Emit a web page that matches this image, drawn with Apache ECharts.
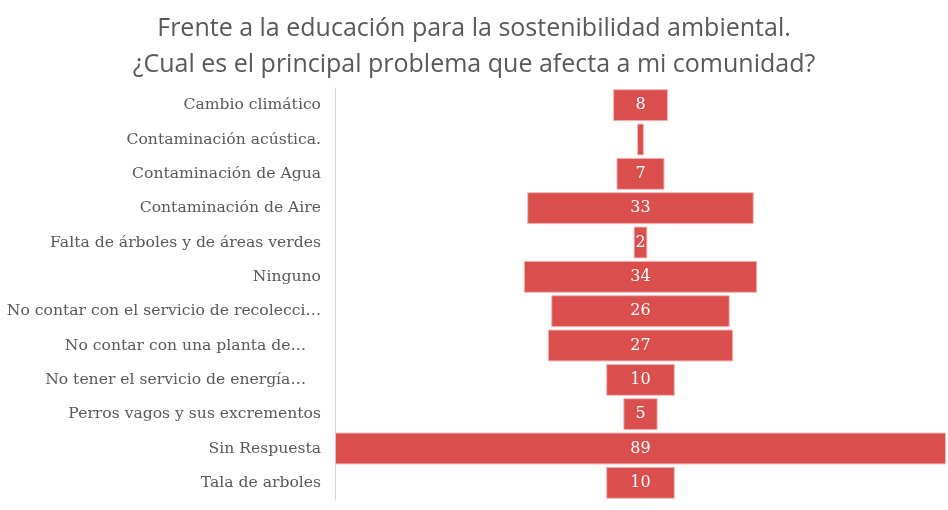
<!DOCTYPE html>
<html><head><meta charset="utf-8">
<script src="https://cdn.jsdelivr.net/npm/echarts@6/dist/echarts.min.js"></script>
<style>html,body{margin:0;padding:0;background:#fff}#c{width:948px;height:510px}</style>
</head><body><div id="c"></div>
<script>
const categories = [
  "Cambio climático",
  "Contaminación acústica.",
  "Contaminación de Agua",
  "Contaminación de Aire",
  "Falta de árboles y de áreas verdes",
  "Ninguno",
  "No contar con el servicio de recolecci…",
  "No contar con una planta de…",
  "No tener el servicio de energía…",
  "Perros vagos y sus excrementos",
  "Sin Respuesta",
  "Tala de arboles"
];
const values = [8, 1, 7, 33, 2, 34, 26, 27, 10, 5, 89, 10];
const maxValue = 89;
const offsets = values.map(v => (maxValue - v) / 2);

const chart = echarts.init(document.getElementById('c'));
chart.setOption({
  animation: false,
  title: {
    text: "Frente a la educación para la sostenibilidad ambiental.\n¿Cual es el principal problema que afecta a mi comunidad?",
    left: 'center', top: 6,
    textStyle: { fontFamily: 'Open Sans', fontWeight: 'normal', fontSize: 25, color: '#595959', lineHeight: 36 }
  },
  grid: { left: 335, right: 2, top: 88, bottom: 10, containLabel: false, outerBoundsMode: 'none' },
  xAxis: { type: 'value', min: 0, max: maxValue, show: false },
  yAxis: {
    type: 'category', data: categories, inverse: true,
    axisLine: { show: true, lineStyle: { color: '#d9d9d9' } },
    axisTick: { show: false },
    axisLabel: {
      fontFamily: 'DejaVu Serif', fontSize: 15.6, color: '#595959', margin: 14,
      formatter: (v, i) => (i === 7 || i === 8) ? '{p|' + v + '}' : v,
      rich: { p: { fontFamily: 'DejaVu Serif', fontSize: 15.6, color: '#595959', padding: [0, 15, 0, 0] } }
    }
  },
  series: [
    { type: 'bar', stack: 's', data: offsets, itemStyle: { color: 'transparent' }, barCategoryGap: '7%', silent: true },
    { type: 'bar', stack: 's', data: values, barCategoryGap: '7%',
      itemStyle: { color: '#DB4E4E', borderColor: '#F3B9B9', borderWidth: 1 },
      label: { show: true, position: 'inside', color: '#fff', fontFamily: 'DejaVu Serif', fontSize: 16,
        formatter: p => p.value > 1 ? p.value : '' } }
  ]
});
</script></body></html>
